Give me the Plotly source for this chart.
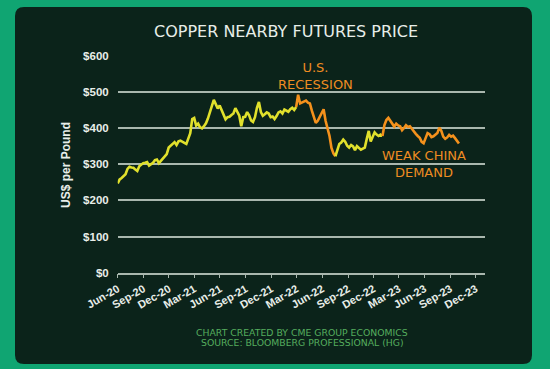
import pandas as pd
import plotly.graph_objects as go

W, H = 550, 369

title_text = "COPPER NEARBY FUTURES PRICE"
y_title = "US$ per Pound"
footer_lines = ["CHART CREATED BY CME GROUP ECONOMICS", "SOURCE: BLOOMBERG PROFESSIONAL (HG)"]
note_recession = "U.S.<br>RECESSION"
note_china = "WEAK CHINA<br>DEMAND"

# Weekly (Monday) copper nearby futures price, US cents per pound, from 2020-06-01
price_2020 = [247, 258, 262, 266, 272,
              287, 293, 291, 290,
              285, 281, 294, 298, 303,
              304, 306, 296, 300,
              304, 311, 313, 303,
              309, 316, 319, 328, 346,
              352, 357, 361, 353]
price_2021 = [363, 365, 361, 359,
              356, 372, 386, 425,
              428, 407, 412, 402, 399,
              405, 413, 426, 446,
              462, 478, 466, 454, 462,
              450, 438, 424, 430,
              431, 436, 440, 455,
              442, 434, 405, 430, 431,
              444, 435, 421, 417,
              430, 456, 472, 444,
              434, 438, 443, 440, 430,
              432, 425, 433, 443]
price_2022 = [446, 440, 451, 447, 445,
              452, 456, 450, 458,
              492, 468, 471, 473,
              476, 470, 468, 448,
              433, 414, 420, 430, 441,
              452, 420, 400, 378,
              345, 330, 322, 342,
              356, 360, 368, 362, 351,
              346, 353, 349, 339,
              350, 345, 340, 343, 346,
              370, 392, 363, 374,
              388, 382, 378, 382]
price_2023 = [378, 408, 422, 428, 420,
              410, 404, 412, 407,
              405, 394, 400, 408,
              403, 405, 398, 390,
              384, 378, 373, 362, 358,
              372, 386, 383, 375,
              377, 381, 386, 401, 392,
              376, 370, 374, 381,
              376, 379, 372, 366,
              357]

prices = price_2020 + price_2021 + price_2022 + price_2023
dates = pd.date_range("2020-06-01", periods=len(prices), freq="7D")

# Phases of the line (start dates) and their colours
phase_starts = ["2020-06-01", "2022-02-28", "2022-07-18", "2023-01-02"]
YELLOW = "#e0e02c"
ORANGE = "#f4911c"
phase_colors = [YELLOW, ORANGE, YELLOW, ORANGE]

tick_dates = ["2020-06-01", "2020-09-01", "2020-12-01", "2021-03-01", "2021-06-01",
              "2021-09-01", "2021-12-01", "2022-03-01", "2022-06-01", "2022-09-01",
              "2022-12-01", "2023-03-01", "2023-06-01", "2023-09-01", "2023-12-01"]
tick_labels = ["Jun-20", "Sep-20", "Dec-20", "Mar-21", "Jun-21", "Sep-21", "Dec-21",
               "Mar-22", "Jun-22", "Sep-22", "Dec-22", "Mar-23", "Jun-23", "Sep-23", "Dec-23"]
y_ticks = [0, 100, 200, 300, 400, 500, 600]
y_tick_labels = ["$0", "$100", "$200", "$300", "$400", "$500", "$600"]

GREEN_BG = "#10a572"
PANEL = "#0b231a"
GRID = "#a9b7ae"
TEXT = "#e8eee9"
FOOT = "#55ad5e"
NOTE = "#ee8c22"


def fx(px):
    return px / W


def fy(py):
    return 1 - py / H


s = pd.Series(prices, index=dates)
fig = go.Figure()
for i, start in enumerate(phase_starts):
    start_ts = pd.Timestamp(start)
    end_ts = pd.Timestamp(phase_starts[i + 1]) if i + 1 < len(phase_starts) else dates[-1]
    seg = s[(s.index >= start_ts) & (s.index <= end_ts)]
    fig.add_trace(go.Scatter(x=seg.index, y=seg.values, mode="lines",
                             line=dict(color=phase_colors[i], width=2.6),
                             hoverinfo="skip"))


def rrect(x0, y0, x1, y1, r):
    rx, ry = r / W, r / H
    X0, X1 = fx(x0), fx(x1)
    Y0, Y1 = fy(y0), fy(y1)  # Y0 top, Y1 bottom
    return (f"M {X0+rx},{Y0} L {X1-rx},{Y0} Q {X1},{Y0} {X1},{Y0-ry} "
            f"L {X1},{Y1+ry} Q {X1},{Y1} {X1-rx},{Y1} "
            f"L {X0+rx},{Y1} Q {X0},{Y1} {X0},{Y1+ry} "
            f"L {X0},{Y0-ry} Q {X0},{Y0} {X0+rx},{Y0} Z")


fig.add_shape(type="path", path=rrect(15, 7, 532, 364, 9), xref="paper", yref="paper",
              fillcolor=PANEL, line=dict(width=0), layer="below")

y_top_px = 272.7 - 6.02 * 36.17
fig.update_layout(
    width=W, height=H,
    margin=dict(l=0, r=0, t=0, b=0, autoexpand=False),
    paper_bgcolor=GREEN_BG,
    plot_bgcolor="rgba(0,0,0,0)",
    showlegend=False,
    xaxis=dict(domain=[fx(117.7), fx(485)], automargin=False,
               range=["2020-06-01", "2024-01-03"],
               tickvals=tick_dates, ticktext=tick_labels, tickangle=-30,
               tickfont=dict(family="Liberation Sans", size=11, color=TEXT, weight="bold"),
               showgrid=False, zeroline=False,
               showline=True, linecolor=GRID, linewidth=1.5,
               ticks="outside", ticklen=4, tickcolor=GRID, tickwidth=1.2),
    yaxis=dict(domain=[fy(272.7), fy(y_top_px)], automargin=False,
               range=[0, 602],
               tickvals=y_ticks, ticktext=y_tick_labels,
               tickfont=dict(family="Liberation Sans", size=11.5, color=TEXT, weight="bold"),
               showgrid=True, gridcolor=GRID, gridwidth=1.5,
               zeroline=False, showline=False, ticks="",
               ticklabelstandoff=8),
)

ann = [
    dict(text=title_text, x=fx(286), y=fy(31), font=dict(family="DejaVu Sans", size=16, color=TEXT)),
    dict(text=f"<b>{y_title}</b>", x=fx(66), y=fy(165), textangle=-90,
         font=dict(family="Liberation Sans", size=12, color=TEXT)),
    dict(text=note_recession, x=fx(315), y=fy(75.5),
         font=dict(family="DejaVu Sans", size=13, color=NOTE)),
    dict(text=note_china, x=fx(424), y=fy(164),
         font=dict(family="DejaVu Sans", size=13, color=NOTE)),
    dict(text=footer_lines[0], x=fx(302), y=fy(332),
         font=dict(family="DejaVu Sans", size=9.3, color=FOOT)),
    dict(text=footer_lines[1], x=fx(302), y=fy(342.5),
         font=dict(family="DejaVu Sans", size=9.3, color=FOOT)),
]
for a in ann:
    fig.add_annotation(xref="paper", yref="paper", showarrow=False,
                       xanchor="center", yanchor="middle", **a)

fig.write_html("out.html",
               config={"displayModeBar": False},
               post_script="document.body.style.margin='0';document.body.style.overflow='hidden';")
